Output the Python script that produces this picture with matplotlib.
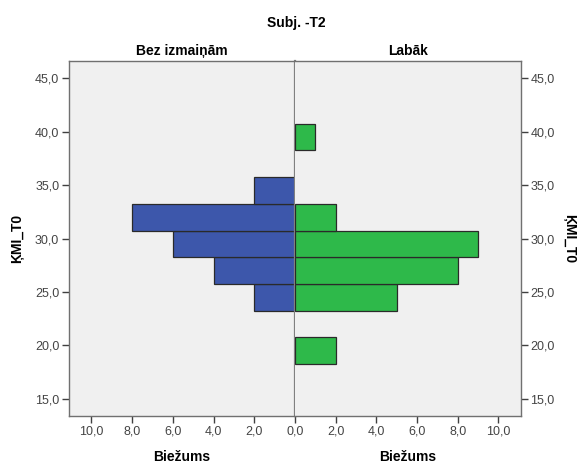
import matplotlib
matplotlib.use("Agg")
import matplotlib.pyplot as plt
import numpy as np
from matplotlib.ticker import FuncFormatter

plt.rcParams["font.family"] = ["Liberation Sans", "DejaVu Sans"]

# KMI_T0 histogram bins (centre values, width 2.5)
bin_centres = [19.5, 22.0, 24.5, 27.0, 29.5, 32.0, 34.5, 37.0, 39.5]
bin_width = 2.5
bez_izmainam = [0, 0, 2, 4, 6, 8, 2, 0, 0]
labak = [2, 0, 5, 8, 9, 2, 0, 0, 1]

y_ticks = [15, 20, 25, 30, 35, 40, 45]
x_ticks = [0, 2, 4, 6, 8, 10]

BLUE = "#3d57ab"
GREEN = "#2eb94a"
BG = "#f0f0f0"
FRAME = "#707070"

comma = FuncFormatter(lambda v, p: f"{v:.1f}".replace(".", ","))

fig = plt.figure(figsize=(5.82, 4.66), dpi=100)
axL = fig.add_axes([69 / 582, 1 - 416 / 466, 226 / 582, 355.3 / 466])
axR = fig.add_axes([295 / 582, 1 - 416 / 466, 225.7 / 582, 355.3 / 466])

for ax, vals, col in ((axL, bez_izmainam, BLUE), (axR, labak, GREEN)):
    v = np.array(vals)
    c = np.array(bin_centres)
    m = v > 0
    ax.barh(c[m], v[m], height=bin_width, color=col, edgecolor="#2a2a2a",
            linewidth=0.9, alpha=1.0)
    ax.set_facecolor(BG)
    ax.set_xlim(0, 11.1)
    ax.set_ylim(13.38, 46.65)
    ax.set_yticks(y_ticks)
    ax.yaxis.set_major_formatter(comma)
    ax.xaxis.set_major_formatter(comma)
    for s in ax.spines.values():
        s.set_color(FRAME)
        s.set_linewidth(1.0)
    ax.tick_params(direction="out", length=5, width=1, color="#404040",
                   labelsize=9, labelcolor="#444444", pad=2)
    ax.set_xlabel("Biežums", fontsize=10, fontweight="bold", labelpad=9)

axL.invert_xaxis()
axL.set_xticks(x_ticks)
axR.set_xticks(x_ticks[1:])
axL.spines["right"].set_linewidth(1.6)
axL.spines["right"].set_color("#808080")
axR.spines["left"].set_visible(False)

axL.yaxis.tick_left()
axR.yaxis.tick_right()
axR.yaxis.set_label_position("right")
axL.set_ylabel("ĶMI_T0", fontsize=10, fontweight="bold", labelpad=8)
axR.set_ylabel("ĶMI_T0", fontsize=10, fontweight="bold", rotation=270,
               labelpad=15)

axL.set_title("Bez izmaiņām", fontsize=10, fontweight="bold", pad=4)
axR.set_title("Labāk", fontsize=10, fontweight="bold", pad=4)
fig.text(296 / 582, 1 - 23 / 466, "Subj. -T2", ha="center", va="center",
         fontsize=10, fontweight="bold")

fig.savefig("out.png", dpi=100, facecolor="white")
